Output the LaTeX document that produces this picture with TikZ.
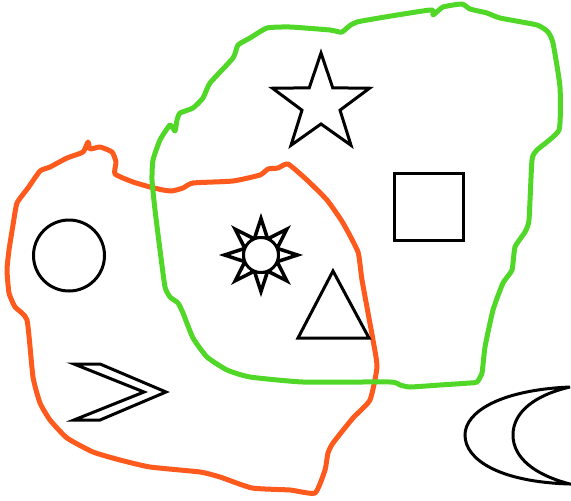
\documentclass[tikz,border=0pt]{standalone}
\usepackage{xcolor}
\usepackage{tikz}
\usetikzlibrary{calc}
\definecolor{setorange}{RGB}{255,90,30}
\definecolor{setgreen}{RGB}{80,215,40}

\begin{document}
\begin{tikzpicture}[x=1pt, y=-1pt,
    blob/.style={line width=5pt, line join=round, line cap=round},
    figure/.style={draw=black, line width=3pt, fill=white, line join=miter}]
  \useasboundingbox (0,0) rectangle (571,501);

  % left set
  \draw[blob, setorange] plot[smooth cycle, tension=0.3] coordinates {
    (88,142) (90,149) (100,147) (112,152) (116,162) (115,174) (133,182)
    (150,187) (163,190) (172,191) (183,188) (193,183) (233,181) (260,175)
    (268,169) (278,168) (288,164) (307,180) (327,200) (343,223) (358,252)
    (362,280) (373,340) (377,367) (370,400) (353,418) (333,443) (328,453)
    (325,470) (315,493) (290,490) (252,488) (220,477) (200,472) (150,467)
    (120,460) (93,452) (67,438) (50,420) (40,403) (33,377) (27,320)
    (15,307) (9,293) (7,270) (9,250) (13,225) (17,203) (28,188) (40,171)
    (50,167) (67,158) (83,152)};

  % right set
  \draw[blob, setgreen] plot[smooth cycle, tension=0.3] coordinates {
    (267,28) (290,27) (330,30) (342,32) (357,22) (430,10) (433,15)
    (443,7) (462,4) (470,9) (487,13) (500,18) (537,25) (548,32) (553,43)
    (560,87) (559,130) (537,150) (532,160) (529,220) (525,232) (515,247)
    (512,270) (503,283) (493,310) (485,347) (482,373) (477,382) (470,383)
    (440,385) (410,387) (400,385) (390,382) (303,382) (250,377) (227,370)
    (207,357) (193,338) (183,313) (178,303) (170,297) (165,287) (160,250)
    (155,210) (152,180) (153,160) (160,140) (170,125) (175,131) (177,120)
    (180,113) (193,108) (203,98) (210,83) (233,58) (238,45) (250,38)};

  \coordinate (ring) at (69,255.5);
  \coordinate (star) at (321,104);
  \coordinate (sun) at (261,255);

  % circle
  \draw[figure] (ring) circle[radius=35.5];

  % star
  \draw[figure] ($(star)+(-90:51)$)
    \foreach \k in {1,...,9} {
      -- ($(star)+(-90+36*\k:{mod(\k,2)==1 ? 20 : 51})$)
    } -- cycle;

  % square
  \draw[figure] (394.5,173.5) rectangle (463.5,240.5);

  % triangle
  \draw[figure] (333,271) -- (369,338) -- (298,338) -- cycle;

  % sun
  \foreach \a in {0,45,...,315}
    \draw[figure, line width=3.5pt] ($(sun)+(\a:36.5)$) -- ($(sun)+(\a+21:18)$) -- ($(sun)+(\a-21:18)$) -- cycle;
  \draw[figure] (sun) circle[radius=17.5];

  % chevron
  \draw[figure] (74,364) -- (100,364) -- (166,392) -- (100,420)
    -- (74,420) -- (144,392) -- cycle;

  % moon
  \draw[figure] (570,387) .. controls (500,390) and (465,412) .. (465,435)
    .. controls (465,460) and (500,482) .. (570,484)
    .. controls (535,475) and (513,458) .. (513,435)
    .. controls (513,412) and (535,395) .. (570,387) -- cycle;
\end{tikzpicture}
\end{document}
